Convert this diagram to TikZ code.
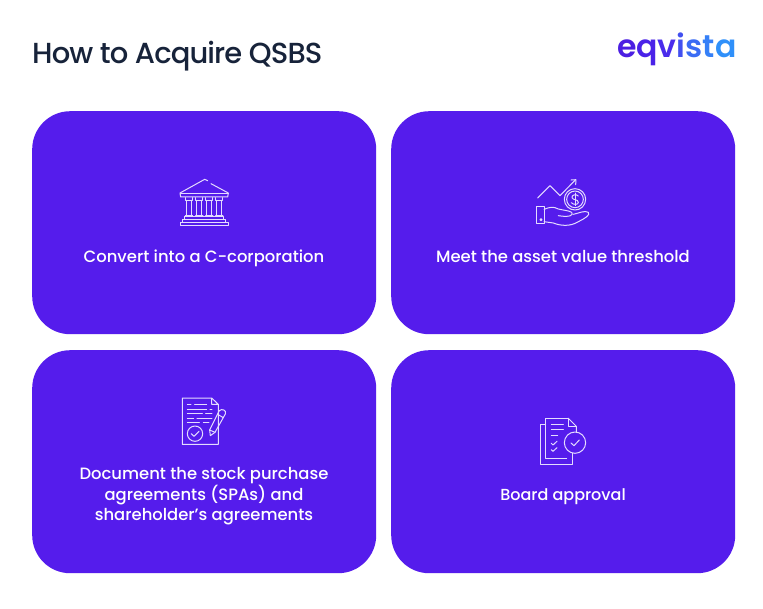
\documentclass[tikz,border=0pt]{standalone}
\usepackage{fontspec}
\setmainfont{Poppins}
\newfontfamily\medfont{Poppins Medium}
\newfontfamily\titlefont[LetterSpace=-3.1]{Poppins Medium}
\newfontfamily\semifont{Poppins SemiBold}
\definecolor{card}{HTML}{551CEC}
\definecolor{ink}{HTML}{17233A}
\definecolor{iconc}{HTML}{E4DCFF}
\tikzset{
 cardbox/.style={fill=card,draw=none,rounded corners=38pt,minimum width=344pt,minimum height=223pt,inner sep=0pt,anchor=north west},
 cardtext/.style={text=white,align=center,font=\medfont\fontsize{16.4pt}{20.5pt}\selectfont},
 iconline/.style={draw=iconc,line width=1pt,line cap=round,line join=round,fill=none},
 icon/.style={x=0.3333pt,y=-0.3333pt}
}
\begin{document}
\begin{tikzpicture}[x=1pt,y=-1pt]
\useasboundingbox[fill=white] (0,0) rectangle (763,608);
\node[anchor=base west,text=ink,inner sep=0pt,font=\titlefont\fontsize{29pt}{30pt}\selectfont] (title) at (32,63.5) {How to Acquire QSBS};
\node[anchor=west,inner sep=0pt,font=\semifont\fontsize{31.5pt}{36pt}\selectfont] (logo) at (617,49) {\textcolor[HTML]{4C1FE2}{e}\textcolor[HTML]{4A22E8}{q}\textcolor[HTML]{4A2CEC}{v}\textcolor[HTML]{4250F0}{i}\textcolor[HTML]{3B6CF4}{s}\textcolor[HTML]{3580F7}{t}\textcolor[HTML]{2F90FA}{a}};
\node[cardbox] (c1) at (32,111) {};
\node[cardbox] (c2) at (391,111) {};
\node[cardbox] (c3) at (32,350) {};
\node[cardbox] (c4) at (391,350) {};
\node[cardtext,anchor=base] (t1) at (204,262) {Convert into a C-corporation};
\node[cardtext,anchor=base] (t2) at (563,262) {Meet the asset value threshold};
\node[cardtext] (t3) at (204,496.5) {Document the stock purchase\\agreements (SPAs) and\\shareholder’s agreements};
\node[cardtext,anchor=base,font=\medfont\fontsize{16pt}{20.5pt}\selectfont] (t4) at (563,500.5) {Board approval};
% bank icon
\begin{scope}[shift={(160pt,-165pt)},icon]
\draw[iconline] (143,47) -- (134,43) -- (60,84) -- (62,96) -- (203,96) -- (205,84) -- (153,56);
\draw[iconline] (62,84) -- (205,84);
\foreach \cx in {87,118,148,178}{
 \draw[iconline] (\cx-11,98) -- (\cx-11,106) -- (\cx+11,106) -- (\cx+11,98);
 \draw[iconline] (\cx-7,106) -- (\cx-7,153) (\cx+7,106) -- (\cx+7,153);
 \draw[iconline] (\cx-11,153) -- (\cx+11,153);
}
\draw[iconline] (75,163) -- (75,156) -- (190,156) -- (190,163);
\draw[iconline] (68,163) rectangle (198,172);
\draw[iconline] (60,172) rectangle (205,182);
\end{scope}
% hand and coin icon
\begin{scope}[shift={(520pt,-165pt)},icon]
\draw[iconline] (53,99) -- (90,62) -- (120,92) -- (166,45);
\draw[iconline] (153,45) -- (168,44) -- (167,59);
\draw[iconline] (165,103) circle (32);
\draw[iconline] (165,103) circle (25);
\draw[iconline] (175,93) .. controls (168,86) and (154,90) .. (156,98) .. controls (158,106) and (175,102) .. (175,112) .. controls (175,120) and (160,120) .. (154,113);
\draw[iconline] (165,84) -- (165,122);
\draw[iconline] (50,124) rectangle (72,177);
\draw[iconline] (63,164) circle (3);
\draw[iconline] (72,133) .. controls (90,126) and (100,124) .. (115,132) .. controls (130,136) and (145,136) .. (155,142) .. controls (162,150) and (150,158) .. (115,152);
\draw[iconline] (160,148) .. controls (175,145) and (195,135) .. (205,142) .. controls (212,150) and (195,160) .. (175,170) .. controls (150,186) and (120,182) .. (100,174) -- (72,170);
\end{scope}
% document and pencil icon
\begin{scope}[shift={(165pt,-390pt)},icon]
\draw[iconline] (140,24) -- (52,24) -- (52,163) -- (160,163) -- (160,43) -- (140,24) -- (140,43) -- (160,43);
\draw[iconline] (67,44) -- (78,44) (89,44) -- (125,44);
\draw[iconline] (67,58) -- (125,58) (135,58) -- (141,58);
\draw[iconline] (67,71) -- (112,71) (122,71) -- (141,71);
\draw[iconline] (67,84) -- (86,84) (96,84) -- (141,84);
\draw[iconline] (67,97) -- (103,97) (115,97) -- (132,97);
\draw[iconline] (90,131) circle (23);
\draw[iconline] (79,131) -- (87,139) -- (102,124);
\draw[iconline] (163,62) -- (134,120) -- (136,137) -- (150,127) -- (181,72) .. controls (186,60) and (170,55) .. (163,62);
\draw[iconline] (158,73) -- (175,83);
\draw[iconline] (134,120) -- (150,127);
\end{scope}
% checklist icon
\begin{scope}[shift={(525pt,-405pt)},icon]
\draw[iconline] (62,58) -- (46,58) -- (46,177) -- (142,177) -- (142,145);
\draw[iconline] (130,40) -- (62,40) -- (62,159) -- (125,159);
\draw[iconline] (130,40) -- (154,64) -- (154,81);
\draw[iconline] (130,40) -- (130,64) -- (154,64);
\draw[iconline] (79,59) -- (115,59);
\draw[iconline] (79,74) -- (115,74);
\draw[iconline] (79,91) -- (98,91);
\draw[iconline] (79,115) -- (84,120) -- (96,109);
\draw[iconline] (79,134) -- (84,139) -- (96,128);
\draw[iconline] (150,113) circle (32);
\draw[iconline] (138,114) -- (147,122) -- (163,105);
\end{scope}
\end{tikzpicture}
\end{document}
